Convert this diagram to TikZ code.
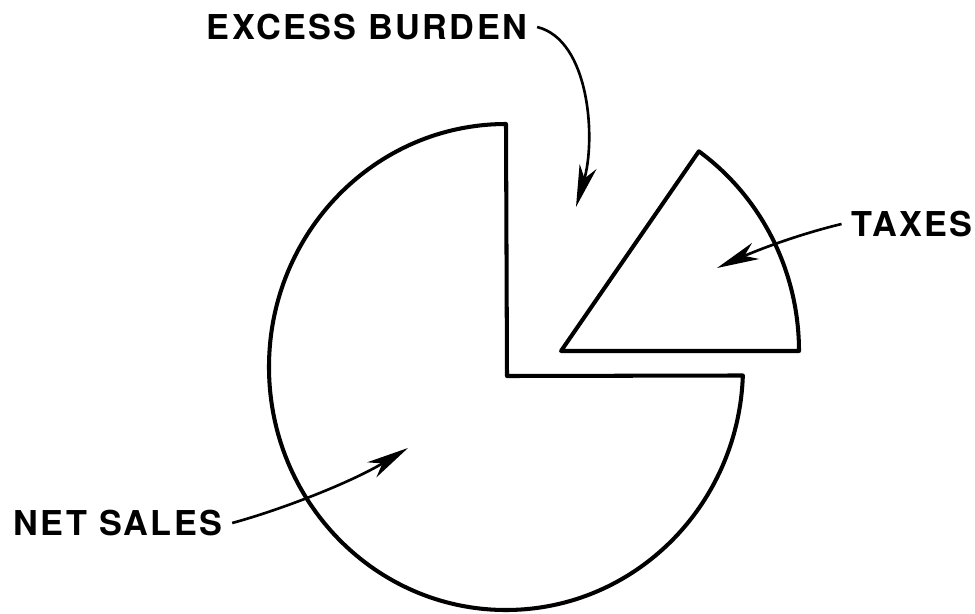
\documentclass[tikz,border=0pt]{standalone}
\usepackage{fontspec}
\setmainfont{TeX Gyre Heros}
\usetikzlibrary{arrows.meta}
\begin{document}
\begin{tikzpicture}[x=0.02cm,y=-0.02cm,
  piece/.style={line width=2.3pt,line join=round},
  lbl/.style={font=\fontsize{19.5}{22}\selectfont\bfseries\addfontfeature{LetterSpace=7},inner xsep=5.5pt,inner ysep=0pt},
  ptr/.style={line width=1.5pt,-{Stealth[length=24pt,width=10pt,inset=7pt]}}]
\useasboundingbox (0,0) rectangle (975,613);
% net sales piece
\draw[piece] (506,124) arc[start angle=270,end angle=2,x radius=237,y radius=243] -- (507,376) -- cycle;
% taxes piece
\draw[piece] (561,351) -- (799,351) arc[start angle=0,end angle=-54.6,x radius=238,y radius=245] -- cycle;
% labels
\node[lbl] (eb) at (367,27) {EXCESS BURDEN};
\node[lbl] (tx) at (912,224) {TAXES};
\node[lbl] (ns) at (118,523) {NET SALES};
% arrow targets
\coordinate (ebt) at (576,207);
\coordinate (txt) at (717,268);
\coordinate (nst) at (408,448);
% arrows
\draw[ptr] (eb.east) .. controls (590,40) and (596,140) .. (ebt);
\draw[ptr] (tx.west) .. controls (800,234) and (760,249) .. (txt);
\draw[ptr] (ns.east) .. controls (280,510) and (350,483) .. (nst);
\end{tikzpicture}
\end{document}
